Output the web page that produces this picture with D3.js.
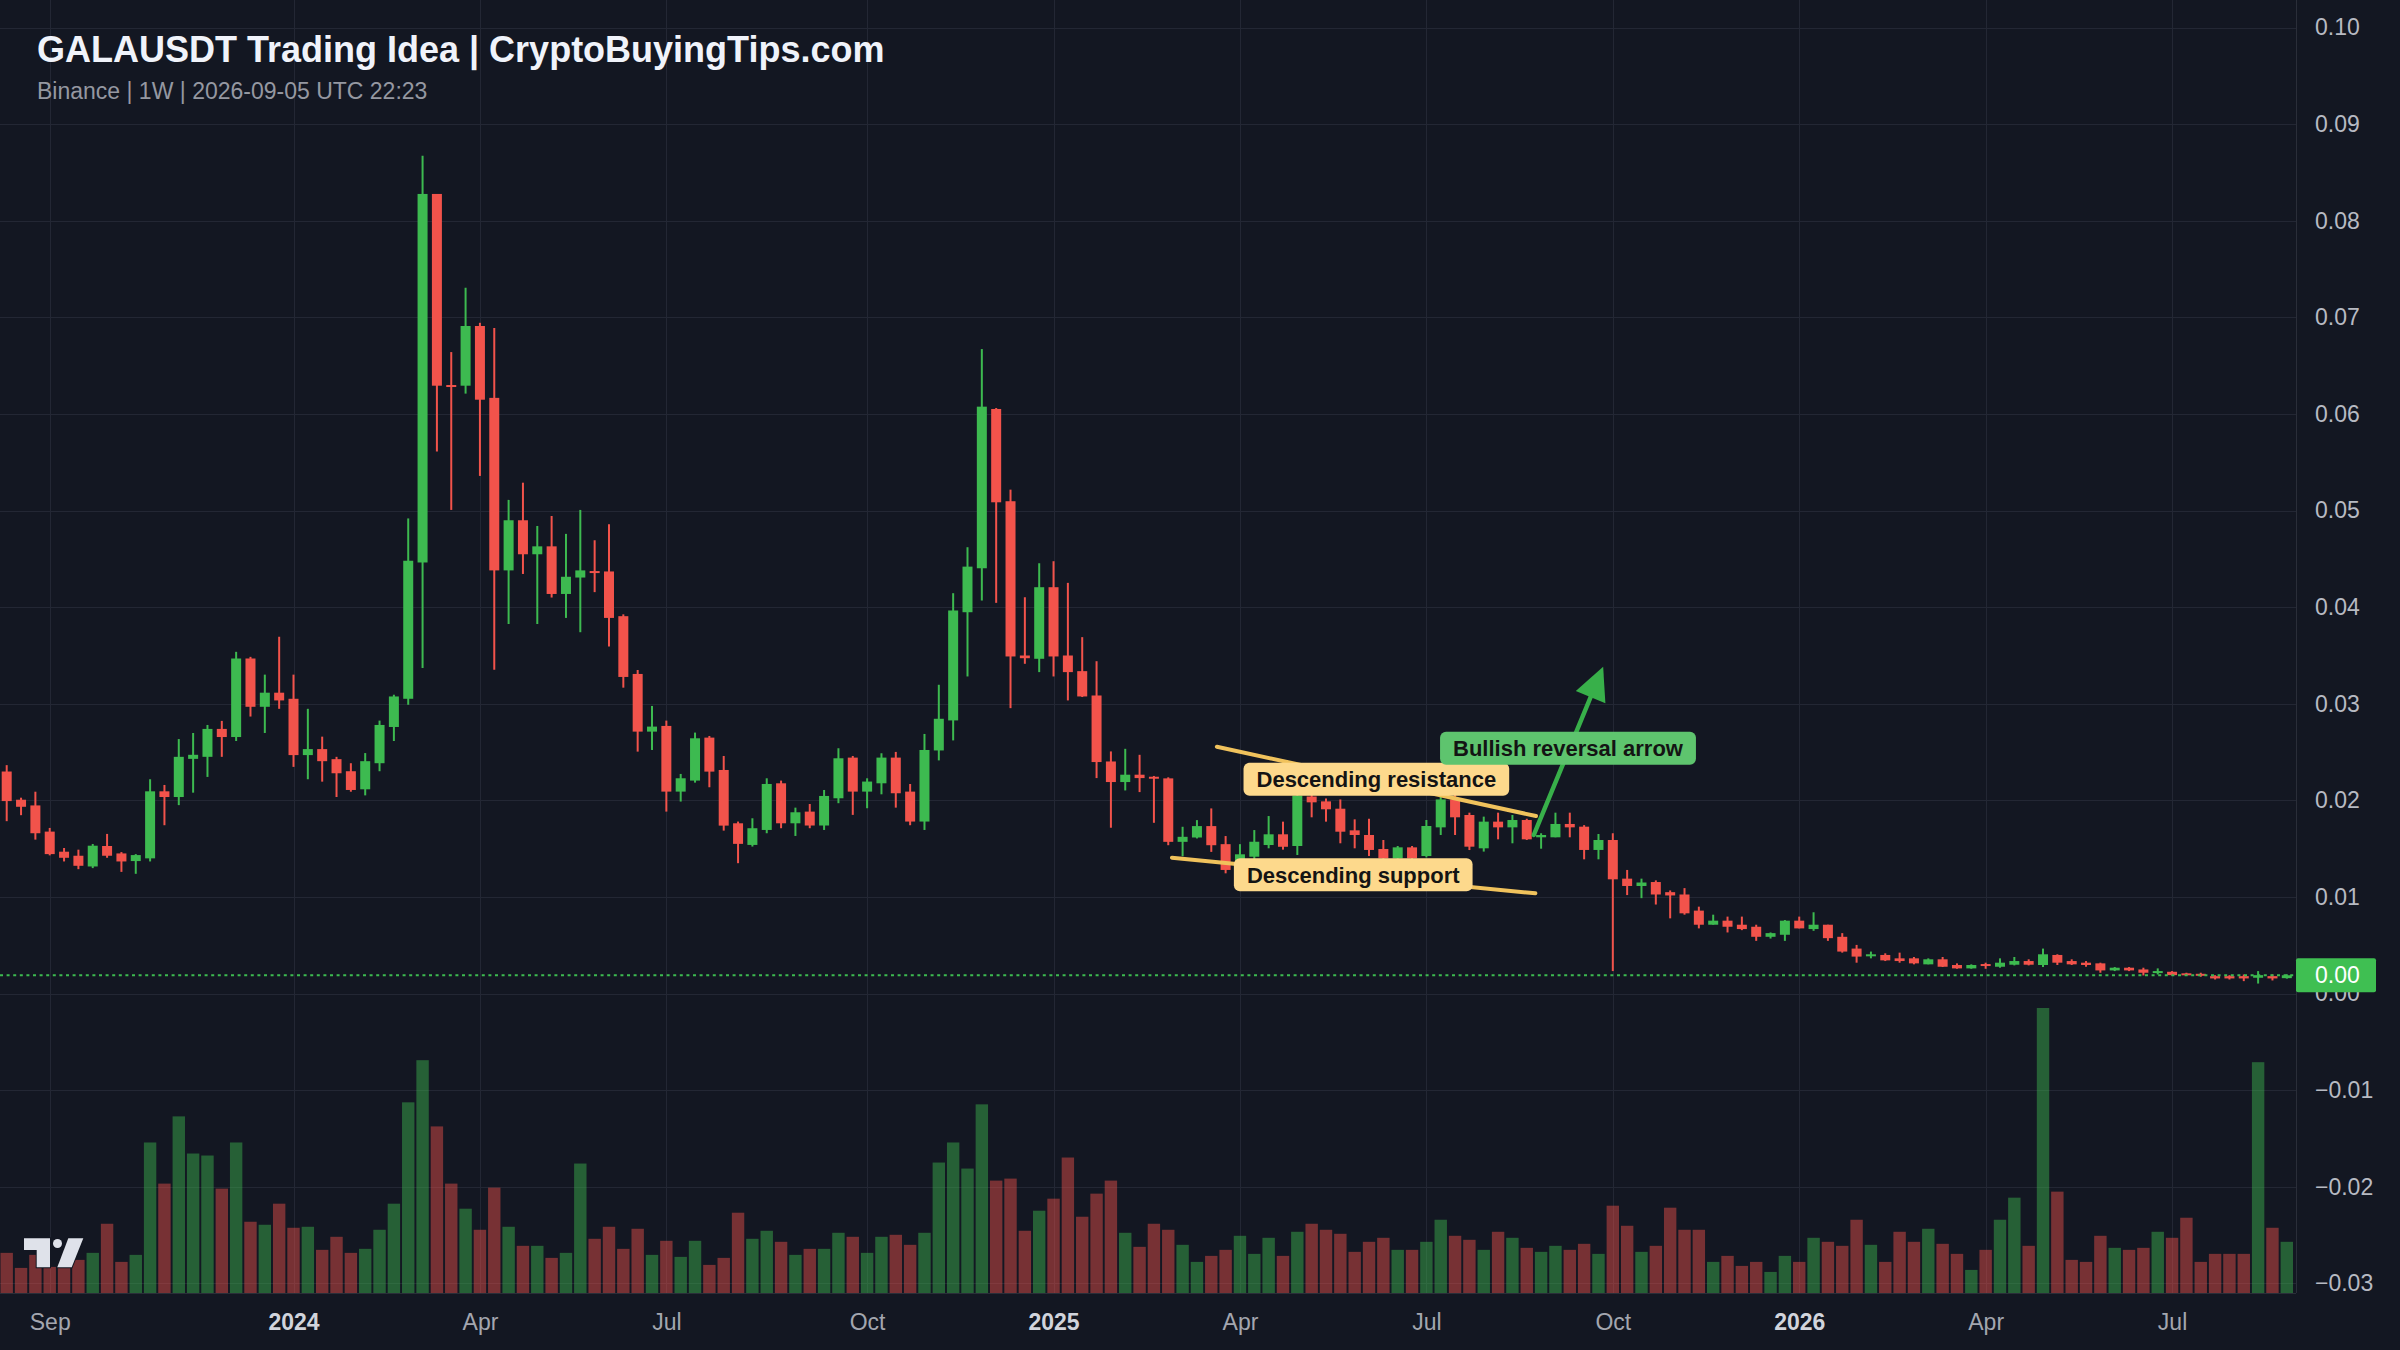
<!DOCTYPE html>
<html><head><meta charset="utf-8">
<script src="https://cdn.jsdelivr.net/npm/d3@7"></script>
<style>html,body{margin:0;padding:0;background:#131722;} svg{display:block}</style>
</head><body><svg id="chart" width="2400" height="1350"></svg>
<script>
// ---------------- DATA ----------------
const titleText = "GALAUSDT Trading Idea | CryptoBuyingTips.com";
const subtitleText = "Binance | 1W | 2026-09-05 UTC 22:23";
const firstWeek = "2023-08-14";   // weekly bars (Monday open)
const lastWeek = "2026-08-31";

const opens = [
.02299,.02007,.01948,.01677,.01469,.01427,.01316,.01528,.01451,.01372,
.014,.02094,.02035,.0243,.02451,.0274,.02656,.03469,.02969,.03115,
.03052,.02469,.02531,.02427,.02302,.02115,.02385,.0276,.03052,.04463,
.08278,.063,.06293,.06911,.06167,.04381,.049,.04548,.0463,.04137,
.04307,.04374,.0437,.03907,.03309,.02712,.02771,.02091,.02205,.0265,
.02315,.01763,.01539,.01694,.02177,.01763,.01884,.0174,.02022,.02443,
.02091,.02177,.02443,.02091,.01781,.02517,.02828,.03948,.04403,.06052,
.05097,.035,.03466,.04207,.035,.03338,.03086,.02403,.0219,.02266,
.02245,.02228,.01571,.01616,.01734,.01547,.0137,.01417,.01538,.01649,
.01528,.0204,.0199,.01914,.0169,.01642,.01497,.014,.01514,.01424,
.01721,.0201,.01849,.01504,.0178,.01721,.01797,.01618,.01618,.01756,
.01728,.01487,.0159,.0119,.01114,.01155,.0105,.01026,.00859,.00713,
.00755,.00713,.00692,.00588,.00609,.00755,.00668,.00713,.00588,.00466,
.00386,.004,.00365,.00365,.00303,.00355,.00296,.00261,.00306,.00278,
.00299,.00337,.00296,.004,.00337,.0032,.00313,.0024,.00268,.0025,
.00216,.00226,.0021,.00205,.00181,.00181,.00181,.00164,.00181,.0016];
const highs = [
.02365,.02028,.0209,.01715,.01507,.0149,.01549,.01653,.01465,.01444,
.02219,.0216,.02635,.02698,.02781,.02823,.03538,.03486,.03302,.03694,
.03302,.02948,.0266,.02451,.02385,.0249,.02826,.03094,.04919,.08674,
.08278,.06641,.07307,.06944,.06889,.05111,.05289,.04841,.04944,.04759,
.05007,.04693,.04859,.03926,.0335,.02978,.02826,.02274,.02702,.02667,
.0246,.01781,.01815,.02229,.02205,.01925,.01963,.02108,.0254,.0246,
.02229,.02488,.02502,.0217,.02688,.03197,.04145,.04621,.06672,.06062,
.05217,.04103,.04455,.04476,.04252,.0369,.03441,.02507,.02534,.02472,
.02253,.02239,.01727,.01796,.01917,.01631,.01547,.01693,.01838,.0178,
.0214,.0209,.0202,.0201,.01804,.0181,.0159,.01528,.01528,.01797,
.0208,.0206,.01873,.01832,.01873,.01849,.0181,.0166,.01873,.01873,
.01744,.01652,.0166,.0128,.0119,.01172,.01068,.01092,.009,.00817,
.00797,.00797,.00713,.00633,.00762,.00797,.00842,.00713,.00626,.00504,
.00435,.00417,.00424,.00379,.00365,.00379,.00313,.00303,.0032,.00365,
.00379,.00355,.00466,.00407,.00355,.00337,.0032,.00275,.00275,.00268,
.00261,.00233,.00216,.00216,.00191,.00191,.00198,.00233,.00198,.002];
const lows = [
.01785,.01847,.01594,.01431,.01368,.01288,.01299,.01406,.0126,.0124,
.01368,.01743,.01951,.0208,.02243,.02451,.02615,.02868,.02698,.02948,
.02347,.02219,.02194,.02035,.0209,.02052,.02302,.02615,.0299,.0337,
.05611,.05007,.06211,.05359,.03352,.03826,.04344,.03826,.041,.03889,
.03741,.04156,.03593,.03167,.02505,.02522,.01884,.01988,.02184,.02136,
.01687,.0135,.01522,.0166,.01712,.01632,.01712,.01694,.01971,.0185,
.01919,.02063,.01925,.01743,.01694,.02414,.02621,.03283,.04069,.04045,
.02955,.03414,.03328,.03283,.03035,.0307,.02231,.01717,.02103,.02086,
.01768,.01536,.01422,.01606,.01467,.01245,.0128,.0138,.01504,.0149,
.01435,.01825,.0178,.01556,.01504,.01424,.0137,.0135,.0136,.0141,
.01642,.01642,.01486,.0147,.01597,.01556,.0159,.015,.01618,.01618,
.0139,.0139,.00233,.0102,.00988,.00922,.00779,.00817,.00675,.00713,
.00633,.00657,.00546,.0057,.00546,.00675,.0065,.00546,.00424,.0032,
.00365,.00337,.0032,.00303,.00303,.00275,.00257,.00257,.00257,.00268,
.00292,.00292,.00275,.00296,.00296,.00278,.00216,.00233,.00233,.00188,
.00198,.00188,.00188,.00174,.00146,.00146,.00129,.00104,.00136,.00155];
const closes = [
.01993,.01934,.0166,.01444,.01406,.01323,.01531,.01427,.01368,.01434,
.02094,.02035,.02451,.02472,.0274,.02656,.03469,.02969,.03115,.03035,
.02469,.02531,.02406,.02281,.02108,.02406,.02781,.03076,.04481,.08278,
.06293,.0628,.06911,.06148,.04381,.049,.04548,.0463,.04137,.04315,
.04381,.0436,.03889,.03278,.02712,.02764,.02091,.02229,.02643,.02298,
.01739,.0155,.01712,.0217,.01763,.01877,.0174,.02046,.02436,.02091,
.02195,.02443,.02074,.01781,.02522,.02845,.03966,.0442,.06076,.05086,
.0349,.03472,.04207,.0349,.03328,.03076,.02397,.0219,.02266,.02231,
.02226,.01571,.01623,.01734,.01536,.0128,.01442,.01572,.01649,.0152,
.0205,.0198,.01908,.01676,.01642,.01487,.014,.01514,.014,.01735,
.0201,.01825,.01521,.0178,.01721,.01797,.01597,.01642,.01756,.01721,
.01487,.0159,.01183,.01114,.0115,.01026,.01016,.00831,.00713,.00755,
.00692,.00668,.00588,.00626,.00755,.00675,.00713,.00574,.00435,.00383,
.00407,.00344,.00337,.00313,.00355,.00278,.00261,.00296,.00292,.0032,
.00337,.00299,.00407,.0032,.00303,.00296,.0024,.00268,.0024,.00216,
.00233,.00191,.00191,.00191,.00157,.00157,.00157,.00191,.00157,.0019];
const volumes = [
40,25,38,26,26,33,40,69,31,38,
150,109,176,139,137,104,150,71,68,89,
65,66,43,56,40,44,63,89,190,232,
166,109,84,63,105,66,47,47,35,40,
129,54,66,44,64,38,52,36,52,28,
35,80,54,62,51,38,44,44,60,56,
40,56,58,48,60,130,150,124,188,112,
114,62,82,94,135,76,99,112,60,46,
69,63,48,31,37,43,57,39,55,37,
61,69,63,59,41,51,55,43,43,51,
73,57,53,43,61,55,45,41,47,43,
49,39,87,67,41,47,85,63,63,31,
37,27,31,21,37,31,55,51,47,73,
48,31,61,51,64,49,39,23,43,73,
95,47,284,101,33,31,57,45,43,45,
61,55,75,31,39,39,39,230,65,51];

const priceTicks = [0.10,0.09,0.08,0.07,0.06,0.05,0.04,0.03,0.02,0.01,0.00,-0.01,-0.02,-0.03];
const timeTickDates = ["2023-09-04","2024-01-01","2024-04-01","2024-07-01","2024-10-07","2025-01-06","2025-04-07","2025-07-07","2025-10-06","2026-01-05","2026-04-06","2026-07-06"];
const timeTickLabels = ["Sep","2024","Apr","Jul","Oct","2025","Apr","Jul","Oct","2026","Apr","Jul"];
const lastPrice = 0.0019;
const lastPriceLabel = "0.00";

// annotation geometry in data space (date, price)
const trendLineNames = ["Descending resistance","Descending support"];
const trendLineStarts = [["2025-03-26T17:30Z",0.02556],["2025-03-04T19:00Z",0.01407]];
const trendLineEnds = [["2025-08-29T12:00Z",0.01838],["2025-08-29T05:00Z",0.01038]];
const labelTexts = ["Descending resistance","Descending support","Bullish reversal arrow"];
const labelAnchors = [["2025-06-12T14:00Z",0.0222],["2025-06-01T07:00Z",0.0123],["2025-09-14T03:00Z",0.0254]];
const labelKinds = ["yellow","yellow","green"];
const arrowFrom = ["2025-08-28T10:00Z",0.01642];
const arrowTo = ["2025-10-01T07:00Z",0.03384];

// ---------------- STYLE ----------------
const W = 2400, H = 1350;
const plotRight = 2296, plotBottom = 1293;
const bg = "#131722", gridC = "#232734";
const upC = "#3dba50", downC = "#f2534b";
const font = "'Liberation Sans', Arial, Helvetica, sans-serif";

const svg = d3.select("#chart");
svg.append("rect").attr("width", W).attr("height", H).attr("fill", bg);

const parse = s => new Date(s.length > 10 ? s : s + "T00:00:00Z");
const dates = d3.utcMonday.range(parse(firstWeek), d3.utcDay.offset(parse(lastWeek), 1));
const bars = dates.map((d, i) => ({date: d, o: opens[i], h: highs[i], l: lows[i], c: closes[i], v: volumes[i]}));

const x = d3.scaleUtc().domain([dates[0], dates[dates.length - 1]]).range([6.7, 2286.8]);
const y = d3.scaleLinear().domain([-0.03, 0.10]).range([1283.4, 27.6]);
const yVol = d3.scaleLinear().domain([0, d3.max(volumes)]).range([plotBottom, 1008]);

// gridlines
const grid = svg.append("g");
grid.selectAll("line.h").data(priceTicks).join("line")
  .attr("x1", 0).attr("x2", plotRight)
  .attr("y1", d => Math.round(y(d)) + 0.5).attr("y2", d => Math.round(y(d)) + 0.5)
  .attr("stroke", gridC).attr("stroke-width", 1);
grid.selectAll("line.v").data(timeTickDates).join("line")
  .attr("x1", d => Math.round(x(parse(d))) + 0.5).attr("x2", d => Math.round(x(parse(d))) + 0.5)
  .attr("y1", 0).attr("y2", plotBottom)
  .attr("stroke", gridC).attr("stroke-width", 1);

// volume
const volW = 12.4;
svg.append("g").selectAll("rect").data(bars).join("rect")
  .attr("x", d => x(d.date) - volW / 2).attr("width", volW)
  .attr("y", d => yVol(d.v)).attr("height", d => plotBottom - yVol(d.v))
  .attr("fill", d => d.c >= d.o ? upC : downC).attr("fill-opacity", 0.45);

// candles
const cg = svg.append("g");
const bodyW = 10;
cg.selectAll("line").data(bars).join("line")
  .attr("x1", d => x(d.date)).attr("x2", d => x(d.date))
  .attr("y1", d => y(d.h)).attr("y2", d => y(d.l))
  .attr("stroke", d => d.c >= d.o ? upC : downC).attr("stroke-width", 2);
cg.selectAll("rect").data(bars).join("rect")
  .attr("x", d => x(d.date) - bodyW / 2).attr("width", bodyW)
  .attr("y", d => Math.min(y(d.o), y(d.c)))
  .attr("height", d => Math.max(2, Math.abs(y(d.o) - y(d.c))))
  .attr("fill", d => d.c >= d.o ? upC : downC);

// trend lines
const ag = svg.append("g");
ag.selectAll("line.trend").data(trendLineNames).join("line")
  .attr("x1", (d, i) => x(parse(trendLineStarts[i][0]))).attr("y1", (d, i) => y(trendLineStarts[i][1]))
  .attr("x2", (d, i) => x(parse(trendLineEnds[i][0]))).attr("y2", (d, i) => y(trendLineEnds[i][1]))
  .attr("stroke", "#f0c25c").attr("stroke-width", 4).attr("stroke-linecap", "round");

// arrow
const ax0 = x(parse(arrowFrom[0])), ay0 = y(arrowFrom[1]);
const ax1 = x(parse(arrowTo[0])), ay1 = y(arrowTo[1]);
const len = Math.hypot(ax1 - ax0, ay1 - ay0);
const ux = (ax1 - ax0) / len, uy = (ay1 - ay0) / len;
const headL = 33, headW = 16;
const bx = ax1 - headL * ux, by = ay1 - headL * uy;
ag.append("line").attr("x1", ax0).attr("y1", ay0).attr("x2", bx + 4 * ux).attr("y2", by + 4 * uy)
  .attr("stroke", "#38b04a").attr("stroke-width", 4.5).attr("stroke-linecap", "round");
ag.append("path")
  .attr("d", `M${ax1},${ay1}L${bx - headW * uy},${by + headW * ux}L${bx + headW * uy},${by - headW * ux}Z`)
  .attr("fill", "#38b04a");

// labels
labelTexts.forEach((t, i) => {
  const cx = x(parse(labelAnchors[i][0])), cy = y(labelAnchors[i][1]);
  const g = ag.append("g");
  const rect = g.append("rect");
  const txt = g.append("text").text(t)
    .attr("x", cx).attr("y", cy).attr("dy", "0.36em").attr("text-anchor", "middle")
    .attr("font-family", font).attr("font-weight", "bold").attr("font-size", 22)
    .attr("fill", "#141414");
  const tw = txt.node().getComputedTextLength();
  const pad = 13, bh = 33;
  rect.attr("x", cx - tw / 2 - pad).attr("y", cy - bh / 2).attr("width", tw + 2 * pad).attr("height", bh)
    .attr("rx", 6).attr("fill", labelKinds[i] === "green" ? "#5ec46e" : "#fdd98c");
});

// last price dotted line
svg.append("line").attr("x1", 0).attr("x2", plotRight)
  .attr("y1", y(lastPrice)).attr("y2", y(lastPrice))
  .attr("stroke", upC).attr("stroke-width", 2).attr("stroke-dasharray", "3,3.6");

// frame lines
svg.append("line").attr("x1", plotRight + 0.5).attr("x2", plotRight + 0.5).attr("y1", 0).attr("y2", plotBottom)
  .attr("stroke", "#2a2e39").attr("stroke-width", 1);
svg.append("line").attr("x1", 0).attr("x2", plotRight).attr("y1", plotBottom + 0.5).attr("y2", plotBottom + 0.5)
  .attr("stroke", "#2a2e39").attr("stroke-width", 1);

// right price axis
const yAxis = d3.axisRight(y).tickValues(priceTicks).tickSize(0).tickPadding(19).tickFormat(d3.format(".2f"));
const yg = svg.append("g").attr("transform", `translate(${plotRight},0)`).call(yAxis);
yg.select(".domain").remove();
yg.selectAll("text").attr("font-family", font).attr("font-size", 23).attr("fill", "#b7bac2");

// last price label
const lp = svg.append("g");
lp.append("rect").attr("x", plotRight).attr("y", y(lastPrice) - 17).attr("width", 80).attr("height", 34)
  .attr("rx", 2).attr("fill", "#3fbf52");
lp.append("text").text(lastPriceLabel).attr("x", plotRight + 19).attr("y", y(lastPrice)).attr("dy", "0.35em")
  .attr("font-family", font).attr("font-size", 23).attr("fill", "#ffffff");

// bottom time axis
const xAxis = d3.axisBottom(x).tickValues(timeTickDates.map(parse)).tickSize(0).tickPadding(21)
  .tickFormat((d, i) => timeTickLabels[i]);
const xg = svg.append("g").attr("transform", `translate(0,${plotBottom})`).call(xAxis);
xg.select(".domain").remove();
xg.selectAll("text").attr("font-family", font).attr("font-size", 23)
  .attr("fill", (d, i) => /^\d+$/.test(timeTickLabels[i]) ? "#d1d4dc" : "#a3a6af")
  .attr("font-weight", (d, i) => /^\d+$/.test(timeTickLabels[i]) ? "bold" : "normal");

// title
svg.append("text").text(titleText).attr("x", 37).attr("y", 62)
  .attr("font-family", font).attr("font-weight", "bold").attr("font-size", 36).attr("fill", "#f0f3fa");
svg.append("text").text(subtitleText).attr("x", 37).attr("y", 99)
  .attr("font-family", font).attr("font-size", 23).attr("fill", "#9598a1");

// TradingView-like logo
const logo = svg.append("g").attr("fill", "#dfe2ea").attr("stroke", "#131722").attr("stroke-width", 2).attr("paint-order", "stroke");
logo.append("path").attr("d", "M24,1238.3H50V1267.3H36.7V1250H24Z");
logo.append("circle").attr("cx", 57.5).attr("cy", 1243.5).attr("r", 4.5);
logo.append("path").attr("d", "M68.3,1238.3H83.3L71.7,1267.3H57.3Z");
</script>
</body></html>
